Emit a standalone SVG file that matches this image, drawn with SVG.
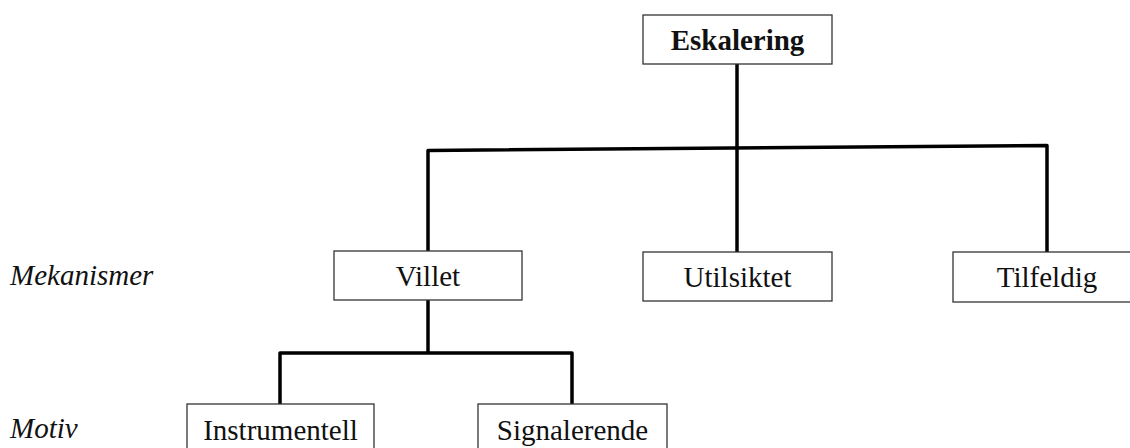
<svg xmlns="http://www.w3.org/2000/svg" width="1130" height="448" viewBox="0 0 1130 448">
  <style>
    .box { fill: #ffffff; stroke: #333333; stroke-width: 1.3; }
    .lbl { font-family: "Liberation Serif", "Times New Roman", serif; font-size: 29px; fill: #111111; text-anchor: middle; }
    .bold { font-weight: bold; }
    .side { font-family: "Liberation Serif", "Times New Roman", serif; font-size: 29px; font-style: italic; fill: #111111; }
    .wire { fill: none; stroke: #000000; stroke-width: 3.5; stroke-linejoin: round; }
  </style>
  <rect width="1130" height="448" fill="#ffffff"/>

  <g id="connectors">
    <line class="wire" x1="737" y1="64" x2="737" y2="148"/>
    <polyline class="wire" points="428,251 428,150.5 1047,145.5 1047,252"/>
    <line class="wire" x1="737" y1="148" x2="737" y2="252"/>
    <line class="wire" x1="428" y1="300" x2="428" y2="353"/>
    <polyline class="wire" points="280,404 280,353 572,353 572,404"/>
  </g>

  <g id="eskalering">
    <rect class="box" x="643" y="15" width="189" height="49"/>
    <text class="lbl bold" x="737.5" y="50">Eskalering</text>
  </g>

  <g id="villet">
    <rect class="box" x="334" y="251" width="188" height="49"/>
    <text class="lbl" x="428" y="286">Villet</text>
  </g>

  <g id="utilsiktet">
    <rect class="box" x="643" y="252" width="189" height="49"/>
    <text class="lbl" x="737.5" y="287">Utilsiktet</text>
  </g>

  <g id="tilfeldig">
    <rect class="box" x="953" y="252" width="189" height="50"/>
    <text class="lbl" x="1047" y="287">Tilfeldig</text>
  </g>

  <g id="instrumentell">
    <rect class="box" x="187" y="404" width="187" height="50"/>
    <text class="lbl" x="280.5" y="440">Instrumentell</text>
  </g>

  <g id="signalerende">
    <rect class="box" x="478" y="404" width="189" height="50"/>
    <text class="lbl" x="572.5" y="440">Signalerende</text>
  </g>

  <g id="row-labels">
    <text class="side" x="10" y="285">Mekanismer</text>
    <text class="side" x="10" y="438">Motiv</text>
  </g>
</svg>
